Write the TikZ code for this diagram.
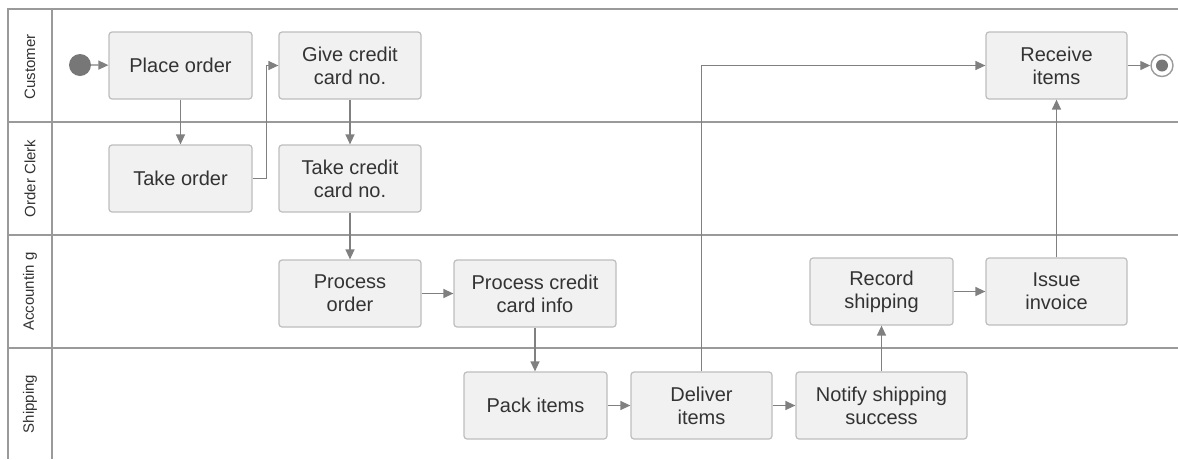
\documentclass[tikz,border=0pt]{standalone}
\usepackage{fontspec}
\setmainfont{Liberation Sans}
\usetikzlibrary{arrows.meta}
\definecolor{boxfill}{HTML}{F1F1F1}
\definecolor{boxline}{HTML}{BDBDBD}
\definecolor{arrowc}{HTML}{808080}
\definecolor{lanec}{HTML}{9A9A9A}
\definecolor{txt}{HTML}{333333}
\definecolor{dotc}{HTML}{777777}
\tikzset{
  act/.style={draw=boxline, line width=1.2pt, fill=boxfill, rounded corners=3pt,
    minimum height=67pt, align=center, inner sep=0pt, text=txt,
    font=\fontsize{20}{23}\selectfont},
  flow/.style={draw=arrowc, line width=1.3pt, -{Triangle[length=10pt,width=9pt]}},
  lane/.style={draw=lanec, line width=1.6pt},
  lanelabel/.style={rotate=90, text=txt, font=\fontsize{15}{18}\selectfont, inner sep=0pt}
}
\begin{document}
\begin{tikzpicture}[x=1pt,y=-1pt]
\useasboundingbox (0,0) rectangle (1178,459);
% lanes
\draw[lane] (8,459) -- (8,9) -- (1178,9);
\draw[lane] (52,9) -- (52,459);
\draw[lane] (8,122) -- (1178,122);
\draw[lane] (8,235) -- (1178,235);
\draw[lane] (8,348) -- (1178,348);
\node[lanelabel] (lcust) at (30,67) {Customer};
\node[lanelabel] (lclerk) at (30,178.5) {Order Clerk};
\node[lanelabel] (lacc) at (30,291.5) {Accountin g};
\node[lanelabel] (lship) at (30,404) {Shipping};
% nodes
\node[circle, fill=dotc, minimum size=22pt, inner sep=0pt] (start) at (80,65) {};
\node[act, minimum width=143pt] (place) at (180.5,65.5) {Place order};
\node[act, minimum width=143pt] (take) at (180.5,178.5) {Take order};
\node[act, minimum width=142pt] (give) at (350,65.5) {Give credit\\card no.};
\node[act, minimum width=142pt] (takecc) at (350,178.5) {Take credit\\card no.};
\node[act, minimum width=142pt] (procorder) at (350,293.5) {Process\\order};
\node[act, minimum width=162pt] (proccc) at (535,293.5) {Process credit\\card info};
\node[act, minimum width=143pt] (pack) at (535.5,405.5) {Pack items};
\node[act, minimum width=141pt] (deliver) at (701.5,405.5) {Deliver\\items};
\node[act, minimum width=171pt] (notify) at (881.5,405.5) {Notify shipping\\success};
\node[act, minimum width=143pt] (record) at (881.5,291.5) {Record\\shipping};
\node[act, minimum width=141pt] (invoice) at (1056.5,291.5) {Issue\\invoice};
\node[act, minimum width=141pt] (receive) at (1056.5,65.5) {Receive\\items};
\node[circle, draw=lanec, line width=1.4pt, fill=white, minimum size=22pt, inner sep=0pt] (endo) at (1162,65.5) {};
\node[circle, fill=dotc, minimum size=12pt, inner sep=0pt] (endi) at (1162,65.5) {};
% connectors
\draw[flow] (start) -- (place);
\draw[flow] (place) -- (take);
\draw[flow] (take.east) -- ++(14,0) |- (give.west);
\draw[flow] (give) -- (takecc);
\draw[flow] (takecc) -- (procorder);
\draw[flow] (procorder) -- (proccc);
\draw[flow] (proccc.south) -- (proccc.south |- pack.north);
\draw[flow] (pack) -- (deliver);
\draw[flow] (deliver.north) |- (receive.west);
\draw[flow] (deliver) -- (notify);
\draw[flow] (notify) -- (record);
\draw[flow] (record) -- (invoice);
\draw[flow] (invoice) -- (receive);
\draw[flow] (receive) -- (endo);
\end{tikzpicture}
\end{document}
